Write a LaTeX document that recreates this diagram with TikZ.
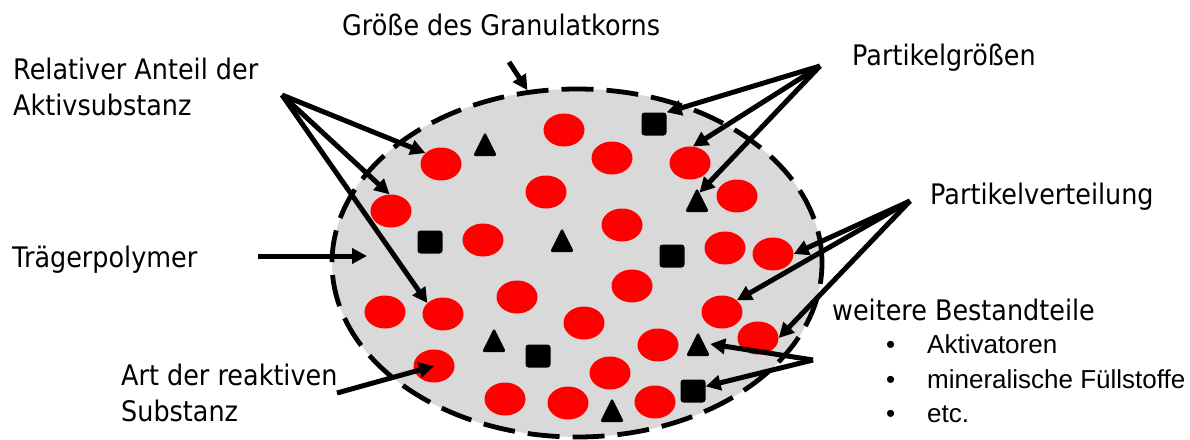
\documentclass[tikz,border=0pt]{standalone}
\usepackage{fontspec}
\setmainfont[FakeStretch=0.9]{DejaVu Sans}
\newfontfamily\bulletfont{Liberation Sans}
\usetikzlibrary{shapes.geometric,arrows.meta,calc}
\definecolor{grayfill}{HTML}{D9D9D9}
\begin{document}
\begin{tikzpicture}[x=1pt,y=-1pt,
  lbl/.style={anchor=base west,inner sep=0pt,font=\fontsize{28.3}{34}\selectfont},
  sub/.style={anchor=base west,inner sep=0pt,font=\bulletfont\fontsize{26}{32}\selectfont},
  redp/.style={ellipse,fill=red,minimum width=41pt,minimum height=33pt,inner sep=0pt},
  sq/.style={rectangle,fill=black,rounded corners=3pt,minimum width=25pt,minimum height=23pt,inner sep=0pt},
  tri/.style={rectangle,minimum width=24pt,minimum height=24pt,inner sep=0pt,
    path picture={\fill[black,rounded corners=2.5pt] (path picture bounding box.south west) -- (path picture bounding box.north) -- (path picture bounding box.south east) -- cycle;}},
  arr/.style={line width=5pt,-{Triangle[length=15pt,width=15pt]}},
]
\useasboundingbox (0,0) rectangle (1190,439);

% granule
\node[ellipse,draw,line width=4.8pt,dash pattern=on 32pt off 13pt,fill=grayfill,
      minimum width=490pt,minimum height=348pt,inner sep=0pt] (korn) at (577,263) {};

% red particles
\foreach \n/\x/\y in {1/564/130,2/612/158,3/441/164,4/690/163,5/546/192,6/737/196,
  7/391/211,8/622/225,9/483/240,10/725/248,11/773/254,12/632/286,13/517/297,
  14/385/312,15/443/314,16/722/312,17/584/323,18/758/338,19/658/345,20/434/366,
  21/610/373,22/505/399,23/568/403,24/655/402}
  \node[redp] (e\n) at (\x,\y) {};

% triangles
\foreach \n/\x/\y in {1/485/144,2/562/240,3/697/200,4/494/340,5/698/344,6/612/410}
  \node[tri] (t\n) at (\x,\y) {};

% squares
\foreach \n/\x/\y in {1/654/124,2/430/242,3/672/256,4/538/356,5/693/391}
  \node[sq] (s\n) at (\x,\y) {};

% labels
\node[lbl] (groesse) at (342,35) {Größe des Granulatkorns};
\node[lbl] (partg) at (852,65) {Partikelgrößen};
\node[lbl] (rel1) at (13,79) {Relativer Anteil der};
\node[lbl] (rel2) at (13,115) {Aktivsubstanz};
\node[lbl] (partv) at (930,204) {Partikelverteilung};
\node[lbl] (traeger) at (12,267) {Trägerpolymer};
\node[lbl] (art1) at (121,385) {Art der reaktiven};
\node[lbl] (art2) at (121,421) {Substanz};
\node[lbl] (weit) at (832,320) {weitere Bestandteile};
\node[sub] (b1) at (886,353) {•};
\node[sub] (b2) at (886,388) {•};
\node[sub] (b3) at (886,422) {•};
\node[sub] (akt) at (927,353) {Aktivatoren};
\node[sub] (min) at (927,388) {mineralische Füllstoffe};
\node[sub] (etc) at (927,422) {etc.};

% arrow origins
\coordinate (relA) at (282,95);
\coordinate (gk) at (509,62);
\coordinate (pg) at (820,66);
\coordinate (pv) at (910,201);
\coordinate (wb) at (813,360);
\coordinate (tpS) at (258,256);
\coordinate (tpE) at (367,256);
\coordinate (ar) at (337,393);

% arrows
\draw[arr] (relA) -- (e3.145);
\draw[arr] (relA) -- (e7.95);
\draw[arr] (relA) -- (e15.145);
\draw[arr] (gk) -- (korn.106);
\draw[arr] (pg) -- (s1.north east);
\draw[arr] (pg) -- (e4.80);
\draw[arr] (pg) -- ($(t3.north)!0.2!(t3.south east)$);
\draw[arr] (pv) -- (e11.east);
\draw[arr] (pv) -- (e16.38);
\draw[arr] (pv) -- (e18.east);
\draw[arr] (wb) -- (t5.east);
\draw[arr] (wb) -- (s5.20);
\draw[arr] (tpS) -- (tpE);
\draw[arr] (ar) -- (e20.center);
\end{tikzpicture}
\end{document}
